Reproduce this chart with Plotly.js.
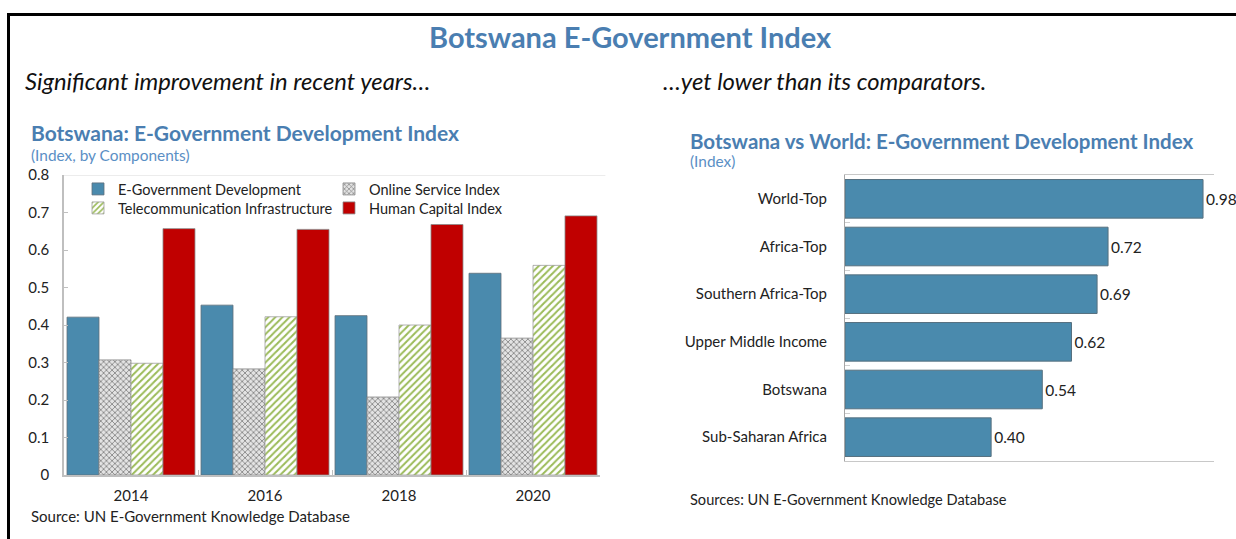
<!DOCTYPE html>
<html>
<head>
<meta charset="utf-8">
<script src="https://cdn.plot.ly/plotly-3.0.1.min.js"></script>
<style>
  html, body { margin: 0; padding: 0; background: #ffffff; }
  #chart { width: 1236px; height: 539px; }
</style>
</head>
<body>
<div id="chart"></div>
<script>
// ---- Data ----
var years = ['2014', '2016', '2018', '2020'];
var egdi = [0.421, 0.453, 0.425, 0.538];   // E-Government Development
var osi  = [0.307, 0.283, 0.208, 0.365];   // Online Service Index
var tii  = [0.298, 0.422, 0.400, 0.559];   // Telecommunication Infrastructure
var hci  = [0.657, 0.655, 0.668, 0.691];   // Human Capital Index

var regions = ['World-Top', 'Africa-Top', 'Southern Africa-Top', 'Upper Middle Income', 'Botswana', 'Sub-Saharan Africa'];
var regionValues = [0.98, 0.72, 0.69, 0.62, 0.54, 0.40];

var seriesNames = ['E-Government Development', 'Online Service Index', 'Telecommunication Infrastructure', 'Human Capital Index'];

// ---- Styles ----
var FONT = 'Lato, "Open Sans", sans-serif';
var BLUE = '#4a8aad';
var RED = '#c00000';
var TITLE_BLUE = '#4a7eb1';
var SUB_BLUE = '#5b8fc5';
var W = 1236, H = 539;
function px(x) { return x / W; }
function py(y) { return 1 - y / H; }

var traces = [
  {
    type: 'bar', x: years, y: egdi, name: seriesNames[0], xaxis: 'x', yaxis: 'y', legend: 'legend',
    marker: { color: BLUE, line: { color: '#5f6f7a', width: 0.8 } }, hoverinfo: 'y'
  },
  {
    type: 'bar', x: years, y: osi, name: seriesNames[1], xaxis: 'x', yaxis: 'y', legend: 'legend',
    marker: { color: '#d0d0d0', line: { color: '#8a8a8a', width: 0.8 },
      pattern: { shape: 'x', fgcolor: '#7a7a7a', bgcolor: '#e3e3e3', size: 4, solidity: 0.35 } },
    hoverinfo: 'y'
  },
  {
    type: 'bar', x: years, y: tii, name: seriesNames[2], xaxis: 'x', yaxis: 'y', legend: 'legend2',
    marker: { color: '#ffffff', line: { color: '#a0a0a0', width: 0.8 },
      pattern: { shape: '/', fgcolor: '#9bbb59', bgcolor: '#ffffff', size: 5, solidity: 0.4 } },
    hoverinfo: 'y'
  },
  {
    type: 'bar', x: years, y: hci, name: seriesNames[3], xaxis: 'x', yaxis: 'y', legend: 'legend2',
    marker: { color: RED, line: { color: '#8a8a8a', width: 0.8 } }, hoverinfo: 'y'
  },
  {
    type: 'bar', orientation: 'h', y: regions, x: regionValues, xaxis: 'x2', yaxis: 'y2',
    showlegend: false, width: 0.81,
    marker: { color: BLUE, line: { color: '#56707f', width: 1 } },
    text: regionValues, texttemplate: '%{x:.2f}', textposition: 'outside', cliponaxis: false,
    textfont: { family: FONT, size: 15.5, color: '#222222' }, hoverinfo: 'x'
  }
];

var layout = {
  width: W, height: H,
  margin: { l: 0, r: 0, t: 0, b: 0 },
  paper_bgcolor: '#ffffff', plot_bgcolor: '#ffffff',
  font: { family: FONT, size: 14, color: '#222222' },
  barmode: 'group', bargap: 0.045, bargroupgap: 0,
  xaxis: {
    domain: [px(64), px(600)], type: 'category', anchor: 'y',
    showline: true, linecolor: '#bfbfbf', linewidth: 1.5,
    ticks: 'inside', tickson: 'boundaries', ticklen: 5, tickcolor: '#bfbfbf',
    showgrid: false, zeroline: false,
    tickfont: { family: FONT, size: 15, color: '#222222' }, ticklabelstandoff: 6
  },
  yaxis: {
    domain: [py(475), py(175)], range: [0, 0.8], dtick: 0.1, tick0: 0, anchor: 'x',
    showline: true, linecolor: '#bfbfbf', linewidth: 1.5,
    ticks: 'inside', ticklen: 4, tickcolor: '#bfbfbf',
    showgrid: false, zeroline: false,
    tickfont: { family: FONT, size: 15, color: '#222222' }, ticklabelstandoff: 10
  },
  xaxis2: {
    domain: [px(845), px(1214)], range: [0, 1.01], anchor: 'y2',
    showline: true, linecolor: '#c8c8c8', mirror: true,
    showticklabels: false, ticks: '', showgrid: false, zeroline: false
  },
  yaxis2: {
    domain: [py(461), py(175)], type: 'category', autorange: 'reversed', anchor: 'x2',
    showline: true, linecolor: '#a6a6a6', mirror: false,
    ticks: 'inside', tickson: 'boundaries', ticklen: 5, tickcolor: '#d0d0d0',
    showgrid: false, zeroline: false,
    tickfont: { family: FONT, size: 15, color: '#222222' }, ticklabelstandoff: 14
  },
  legend: {
    orientation: 'h', x: px(78), y: py(173), xanchor: 'left', yanchor: 'top',
    entrywidth: 206, entrywidthmode: 'pixels', bgcolor: 'rgba(0,0,0,0)',
    font: { family: FONT, size: 14.5, color: '#222222' }, traceorder: 'normal',
    itemclick: false, itemdoubleclick: false
  },
  legend2: {
    orientation: 'h', x: px(78), y: py(192), xanchor: 'left', yanchor: 'top',
    entrywidth: 206, entrywidthmode: 'pixels', bgcolor: 'rgba(0,0,0,0)',
    font: { family: FONT, size: 14.5, color: '#222222' }, traceorder: 'normal',
    itemclick: false, itemdoubleclick: false
  },
  shapes: [
    // frame lines
    { type: 'line', xref: 'paper', yref: 'paper', x0: px(8.5), x1: px(8.5), y0: py(13), y1: py(539), line: { color: '#000000', width: 3 } },
    { type: 'line', xref: 'paper', yref: 'paper', x0: px(7), x1: px(1236), y0: py(14.5), y1: py(14.5), line: { color: '#000000', width: 3 } },
    // top border of left plot
    { type: 'line', xref: 'x domain', yref: 'y', x0: 0, x1: 1.01, y0: 0.8, y1: 0.8, line: { color: '#d9d9d9', width: 1.2 } }
  ],
  annotations: [
    { text: '<b>Botswana E-Government Index</b>', xref: 'paper', yref: 'paper', x: px(630), y: py(37),
      xanchor: 'center', yanchor: 'middle', showarrow: false, font: { family: FONT, size: 29, color: TITLE_BLUE } },
    { text: '<i>Significant improvement in recent years…</i>', xref: 'paper', yref: 'paper', x: px(23), y: py(81),
      xanchor: 'left', yanchor: 'middle', showarrow: false, font: { family: FONT, size: 23.8, color: '#111111' } },
    { text: '<i>…yet lower than its comparators.</i>', xref: 'paper', yref: 'paper', x: px(661), y: py(81),
      xanchor: 'left', yanchor: 'middle', showarrow: false, font: { family: FONT, size: 23.8, color: '#111111' } },
    { text: '<b>Botswana: E-Government Development Index</b>', xref: 'paper', yref: 'paper', x: px(29), y: py(132),
      xanchor: 'left', yanchor: 'middle', showarrow: false, font: { family: FONT, size: 21, color: TITLE_BLUE } },
    { text: '(Index, by Components)', xref: 'paper', yref: 'paper', x: px(29), y: py(155),
      xanchor: 'left', yanchor: 'middle', showarrow: false, font: { family: FONT, size: 15.4, color: SUB_BLUE } },
    { text: '<b>Botswana vs World: E-Government Development Index</b>', xref: 'paper', yref: 'paper', x: px(688), y: py(141),
      xanchor: 'left', yanchor: 'middle', showarrow: false, font: { family: FONT, size: 20.5, color: TITLE_BLUE } },
    { text: '(Index)', xref: 'paper', yref: 'paper', x: px(688), y: py(161),
      xanchor: 'left', yanchor: 'middle', showarrow: false, font: { family: FONT, size: 15.4, color: SUB_BLUE } },
    { text: 'Source: UN E-Government Knowledge Database', xref: 'paper', yref: 'paper', x: px(29), y: py(516),
      xanchor: 'left', yanchor: 'middle', showarrow: false, font: { family: FONT, size: 15, color: '#222222' } },
    { text: 'Sources: UN E-Government Knowledge Database', xref: 'paper', yref: 'paper', x: px(688), y: py(499),
      xanchor: 'left', yanchor: 'middle', showarrow: false, font: { family: FONT, size: 14.6, color: '#222222' } }
  ]
};

Plotly.newPlot('chart', traces, layout, { displayModeBar: false, responsive: false });
</script>
</body>
</html>
